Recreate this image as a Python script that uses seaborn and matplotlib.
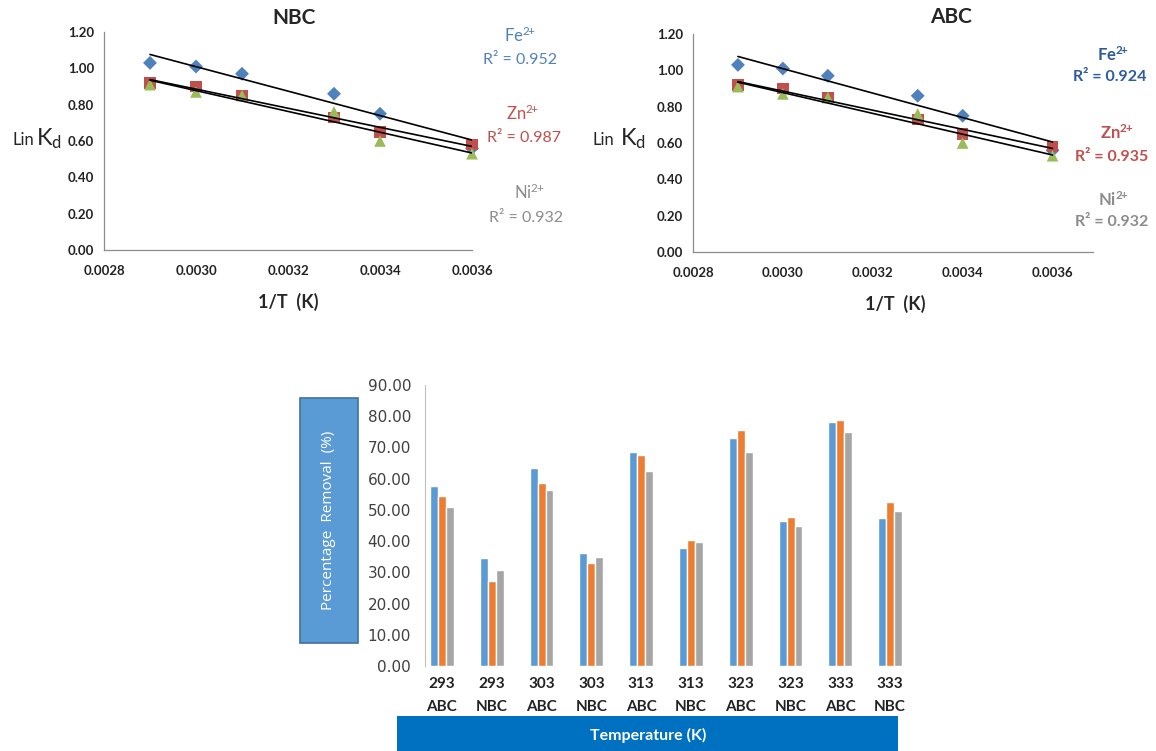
import numpy as np
import pandas as pd
import matplotlib
matplotlib.use("Agg")
import matplotlib.pyplot as plt
from matplotlib.patches import Rectangle
import seaborn as sns

# datos de las graficas de Van't Hoff
inv_T = [0.0029, 0.0030, 0.0031, 0.0033, 0.0034, 0.0036]
fe_lnkd = [1.03, 1.01, 0.97, 0.86, 0.75, 0.56]
zn_lnkd = [0.92, 0.90, 0.85, 0.73, 0.65, 0.58]
ni_lnkd = [0.91, 0.87, 0.85, 0.76, 0.60, 0.53]
r2_nbc = ["0.952", "0.987", "0.932"]
r2_abc = ["0.924", "0.935", "0.932"]

# datos del grafico de barras
temps = ["293", "293", "303", "303", "313", "313", "323", "323", "333", "333"]
carbon = ["ABC", "NBC", "ABC", "NBC", "ABC", "NBC", "ABC", "NBC", "ABC", "NBC"]
fe_rem = [57.8, 34.5, 63.5, 36.2, 68.7, 37.8, 73.1, 46.3, 78.1, 47.3]
zn_rem = [54.3, 27.1, 58.7, 33.1, 67.7, 40.3, 75.5, 47.8, 78.8, 52.4]
ni_rem = [50.9, 30.9, 56.4, 34.9, 62.5, 39.8, 68.5, 45.0, 74.9, 49.8]

sns.set_style("white")
plt.rcParams['font.family'] = ['Lato', 'DejaVu Sans']
plt.rcParams['mathtext.fontset'] = 'custom'
plt.rcParams['mathtext.rm'] = 'Lato'
plt.rcParams['mathtext.it'] = 'Lato'
plt.rcParams['mathtext.bf'] = 'Lato:bold'

W, H = 1156, 751
fig = plt.figure(figsize=(W / 100, H / 100), dpi=100)


def px_axes(left, top, right, bottom):
    return fig.add_axes([left / W, 1 - bottom / H, (right - left) / W, (bottom - top) / H])


def ftext(x, y, s, **kw):
    # texto en pixeles desde la esquina superior izquierda
    return fig.text(x / W, 1 - y / H, s, ha=kw.pop("ha", "center"), va=kw.pop("va", "center"), **kw)


ion_colors = ["#4F81BD", "#C0504D", "#9BBB59"]
ion_markers = ["D", "s", "^"]
ion_sizes = [50, 70, 70]
ions = ["Fe", "Zn", "Ni"]


def vant_hoff(ax, r2, xmax, pos, colors, weight):
    for y, c, m, s in zip([fe_lnkd, zn_lnkd, ni_lnkd], ion_colors, ion_markers, ion_sizes):
        sns.scatterplot(x=inv_T, y=y, ax=ax, color=c, marker=m, s=s, edgecolor="none", clip_on=False, zorder=3)
    for y in [fe_lnkd, zn_lnkd, ni_lnkd]:
        sns.regplot(x=inv_T, y=y, ax=ax, scatter=False, ci=None, color="black", truncate=True,
                    line_kws={"lw": 1.2, "zorder": 4})
    ax.set_xlim(0.0028, xmax)
    ax.set_ylim(0, 1.2)
    ax.set_xticks(np.arange(0.0028, 0.00361, 0.0002))
    ax.set_yticks(np.arange(0, 1.21, 0.2))
    ax.xaxis.set_major_formatter(plt.FormatStrFormatter("%.4f"))
    ax.yaxis.set_major_formatter(plt.FormatStrFormatter("%.2f"))
    for lab in ax.get_xticklabels() + ax.get_yticklabels():
        lab.set_fontweight("bold")
        lab.set_fontsize(9.5)
        lab.set_color("#222222")
    ax.tick_params(axis="both", length=4, width=0.8, color="#8C8C8C", direction="out")
    ax.tick_params(axis="y", pad=3)
    ax.tick_params(axis="x", pad=7)
    sns.despine(ax=ax)
    for sp in ["left", "bottom"]:
        ax.spines[sp].set_color("#8C8C8C")
        ax.spines[sp].set_linewidth(0.9)
    ax.set_xlabel("")
    ax.set_ylabel("")
    mfont = r"\mathbf" if weight == "bold" else r"\mathrm"
    for i in range(3):
        (ix, iy), (rx, ry) = pos[i]
        ftext(ix, iy, "$" + mfont + "{" + ions[i] + r"^{2\!\!+}}$", fontsize=12, color=colors[i])
        ftext(rx, ry, "R² = " + r2[i], fontsize=11.5, color=colors[i], fontweight=weight)


# NBC
ax1 = px_axes(104, 32, 472, 250)
vant_hoff(ax1, r2_nbc, 0.0036,
          [((520, 35), (520, 60)), ((523, 113), (524, 138)), ((529, 192), (526, 218))],
          ["#4F81BD", "#C0504D", "#8C8C8C"], "normal")
ftext(294, 18, "NBC", fontsize=15, fontweight="bold")
ftext(288, 302, "1/T  (K)", fontsize=13, fontweight="bold")
ftext(13, 140, "Lin", ha="left", fontsize=12)
ftext(36, 139, r"K$_{\mathregular{d}}$", ha="left", fontsize=17)

# ABC
ax2 = px_axes(693, 34, 1093, 252)
vant_hoff(ax2, r2_abc, 0.00369,
          [((1113, 55), (1110, 77)), ((1117, 133), (1112, 157)), ((1113, 200), (1112, 222))],
          ["#2E5C9A", "#C0504D", "#8C8C8C"], "bold")
ftext(951, 17, "ABC", fontsize=15, fontweight="bold")
ftext(895, 304, "1/T  (K)", fontsize=13, fontweight="bold")
ftext(592, 140, "Lin", ha="left", fontsize=12)
ftext(620, 139, r"K$_{\mathregular{d}}$", ha="left", fontsize=17)

# grafico de barras
cats = [t + "\n" + c for t, c in zip(temps, carbon)]
df = pd.DataFrame({
    "cat": cats * 3,
    "ion": ["Fe2+"] * 10 + ["Zn2+"] * 10 + ["Ni2+"] * 10,
    "removal": fe_rem + zn_rem + ni_rem,
})
ax3 = px_axes(425, 385, 925, 666)
sns.barplot(data=df, x="cat", y="removal", hue="ion", ax=ax3,
            palette=["#5B9BD5", "#ED7D31", "#A5A5A5"], width=0.48, gap=0,
            legend=False, saturation=1, errorbar=None)
ax3.set_xlim(-0.34, 9.7)
ax3.set_ylim(0, 90)
ax3.set_yticks(np.arange(0, 91, 10))
ax3.yaxis.set_major_formatter(plt.FormatStrFormatter("%.2f"))
for lab in ax3.get_yticklabels():
    lab.set_fontfamily("DejaVu Sans")
    lab.set_fontsize(11)
    lab.set_color("#404040")
for lab in ax3.get_xticklabels():
    lab.set_fontweight("bold")
    lab.set_fontsize(11)
    lab.set_linespacing(1.85)
    lab.set_color("#222222")
ax3.tick_params(axis="y", length=4, color="#BFBFBF", pad=6)
ax3.tick_params(axis="x", length=0, pad=8)
sns.despine(ax=ax3, bottom=True)
ax3.spines["left"].set_color("#BFBFBF")
ax3.set_xlabel("")
ax3.set_ylabel("")

fig.patches.append(Rectangle((300 / W, 1 - 643 / H), 58 / W, 245 / H, transform=fig.transFigure,
                             facecolor="#5B9BD5", edgecolor="#41719C", lw=1.2))
ftext(329, 520, "Percentage  Removal  (%)", rotation=90, color="white", fontsize=11,
      fontfamily="Open Sans")
fig.patches.append(Rectangle((397 / W, 0), 501 / W, 35 / H, transform=fig.transFigure,
                             facecolor="#0070C0", edgecolor="none"))
ftext(648, 735, "Temperature (K)", color="white", fontsize=11.5, fontweight="bold")

fig.savefig("out.png", dpi=100)
